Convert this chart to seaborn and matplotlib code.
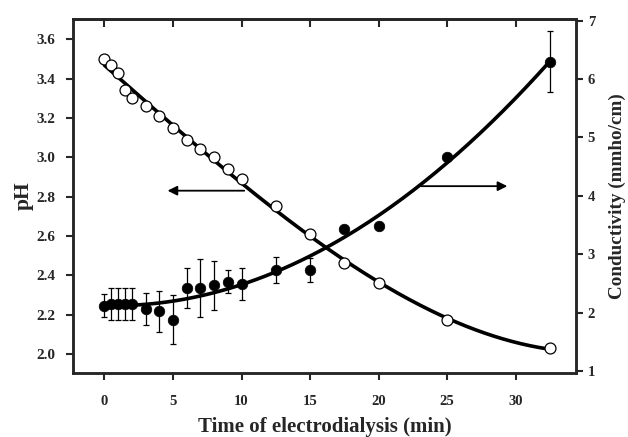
import numpy as np
import matplotlib
matplotlib.use("Agg")
import matplotlib.pyplot as plt
import seaborn as sns

# pH (open circles, left axis)
time_ph = [0, 0.5, 1, 1.5, 2, 3, 4, 5, 6, 7, 8, 9, 10, 12.5, 15, 17.5, 20, 25, 32.5]
ph = [3.50, 3.47, 3.43, 3.34, 3.30, 3.26, 3.21, 3.15, 3.09, 3.04, 3.00, 2.94, 2.89,
      2.75, 2.61, 2.46, 2.36, 2.17, 2.03]
ph_err = [0, 0, 0, 0, 0, 0, 0, 0, 0, 0, 0, 0, 0, 0, 0, 0, 0, 0.02, 0]

# conductivity (filled circles, right axis)
time_cond = [0, 0.5, 1, 1.5, 2, 3, 4, 5, 6, 7, 8, 9, 10, 12.5, 15, 17.5, 20, 25, 32.5]
cond = [2.12, 2.15, 2.15, 2.15, 2.15, 2.06, 2.02, 1.88, 2.42, 2.42, 2.47, 2.53, 2.49,
        2.73, 2.73, 3.43, 3.49, 4.66, 6.30]
cond_err = [0.20, 0.27, 0.27, 0.27, 0.27, 0.27, 0.35, 0.42, 0.35, 0.49, 0.42, 0.20, 0.28,
            0.22, 0.20, 0.05, 0.0, 0.05, 0.52]

x_ticks = [0, 5, 10, 15, 20, 25, 30]
ph_ticks = [2.0, 2.2, 2.4, 2.6, 2.8, 3.0, 3.2, 3.4, 3.6]
cond_ticks = [1, 2, 3, 4, 5, 6, 7]

sns.set_style("ticks")
plt.rcParams['font.family'] = ['Liberation Serif', 'DejaVu Serif']
plt.rcParams['font.weight'] = 'bold'

fig = plt.figure(figsize=(6.28, 4.37), dpi=100)
ax = fig.add_axes([0.1162, 0.1465, 0.8008, 0.81])
ax2 = ax.twinx()

# smooth fits through the data
xs = np.linspace(0, 32.5, 200)
ph_fit = np.polyval(np.polyfit(time_ph, ph, 3), xs)
cond_fit = np.polyval(np.polyfit(time_cond, cond, 2), xs)

sns.lineplot(x=xs, y=ph_fit, ax=ax, color='black', lw=2.6, zorder=2)
ax.errorbar(time_ph, ph, yerr=ph_err, fmt='none', ecolor='black', elinewidth=0.8,
            capsize=2.5, capthick=0.8, zorder=2)
sns.scatterplot(x=time_ph, y=ph, ax=ax, marker='o', s=62, facecolor='white',
                edgecolor='black', linewidth=0.9, zorder=3)

sns.lineplot(x=xs, y=cond_fit, ax=ax2, color='black', lw=2.6, zorder=2)
ax2.errorbar(time_cond, cond, yerr=cond_err, fmt='none', ecolor='black', elinewidth=0.9,
             capsize=2.5, capthick=0.9, zorder=2)
sns.scatterplot(x=time_cond, y=cond, ax=ax2, marker='o', s=58, color='black',
                edgecolor='black', linewidth=0.5, zorder=3)

ax.set_xlim(-2.3, 34.4)
ax.set_ylim(1.903, 3.703)
ax2.set_ylim(0.965, 7.03)
ax.set_xticks(x_ticks)
ax.set_yticks(ph_ticks)
ax2.set_yticks(cond_ticks)
ax.set_yticklabels([f"{t:.1f}" for t in ph_ticks])
ax2.set_yticklabels([str(t) for t in cond_ticks])

# arrows pointing to the axes
ax.annotate('', xy=(4.4, 2.83), xytext=(10.4, 2.83),
            arrowprops=dict(arrowstyle='-|>', color='black', lw=1.3, mutation_scale=14))
ax.annotate('', xy=(29.6, 2.853), xytext=(22.9, 2.853),
            arrowprops=dict(arrowstyle='-|>', color='black', lw=1.3, mutation_scale=14))

for a in (ax, ax2):
    for s in a.spines.values():
        s.set_linewidth(1.8)
        s.set_visible(True)

ax.tick_params(axis='x', direction='out', length=5, width=1.5, pad=11, labelsize=10.5)
ax.tick_params(axis='y', direction='out', length=5, width=1.5, pad=7.5, labelsize=11)
ax2.tick_params(axis='y', direction='out', length=5, width=1.5, pad=3.5, labelsize=10.5)

top = ax.secondary_xaxis('top')
top.set_xticks(x_ticks)
top.tick_params(direction='in', length=6, width=1.5, labeltop=False)
top.spines['top'].set_linewidth(1.8)

ax.set_xlabel('Time of electrodialysis (min)', fontsize=15, fontweight='bold', labelpad=6)
ax.set_ylabel('pH', fontsize=15.5, fontweight='bold', labelpad=2)
ax2.set_ylabel('Conductivity (mmho/cm)', fontsize=13.8, fontweight='bold', labelpad=10)

fig.savefig('out.png', dpi=100)
